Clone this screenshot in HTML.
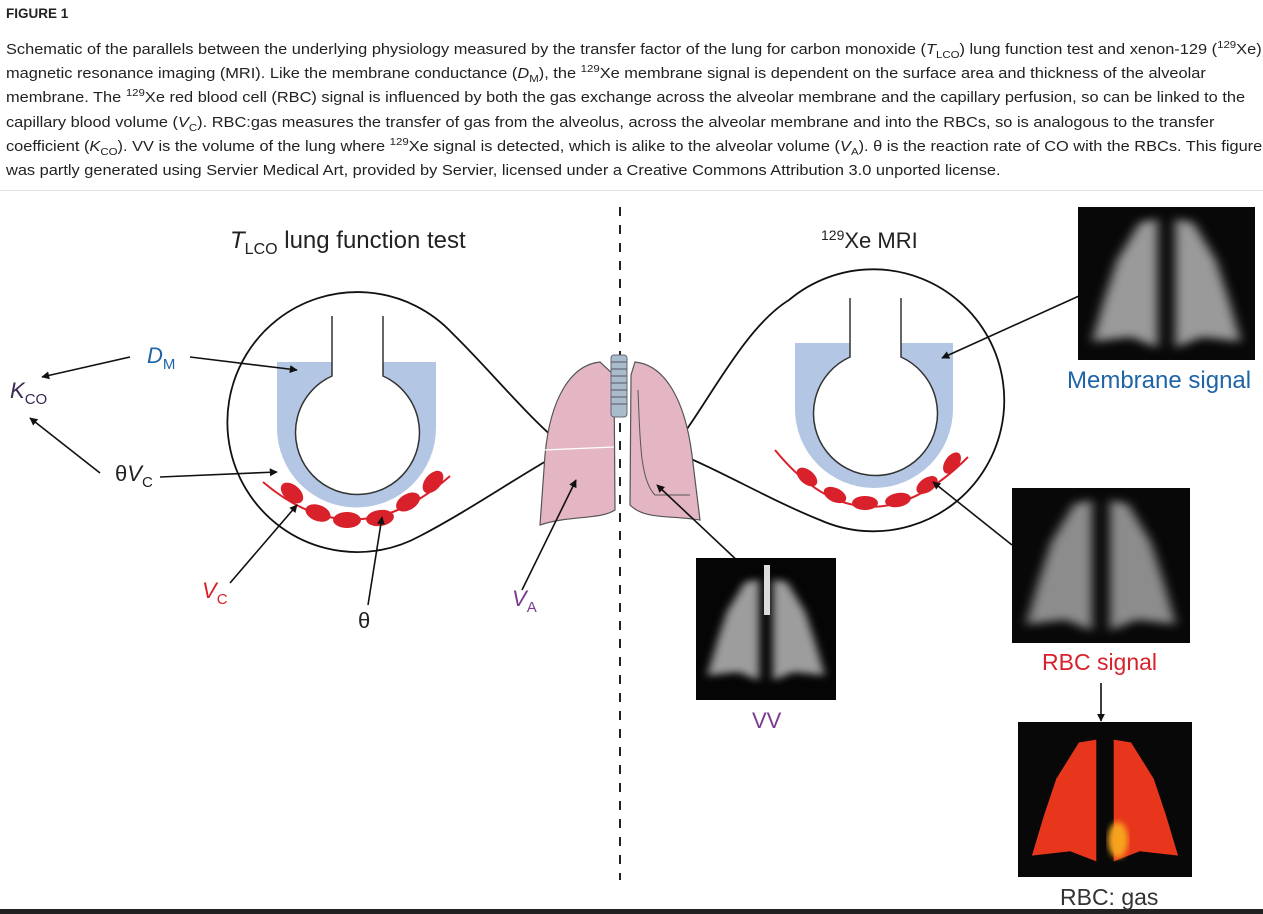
<!DOCTYPE html>
<html><head><meta charset="utf-8"><style>
body{margin:0;width:1263px;height:914px;background:#fff;overflow:hidden;font-family:"Liberation Sans",sans-serif;color:#222;position:relative}
.h{position:absolute;left:6px;top:6px;font-weight:bold;font-size:13.5px}
.cap{position:absolute;left:6px;top:38px;font-size:14.3px;line-height:24.2px;white-space:nowrap;transform:scaleX(1.145);transform-origin:0 0}
.cap sup{font-size:10px;line-height:0}
.cap sub{font-size:10px;line-height:0}
.sep{position:absolute;left:0;top:190px;width:1263px;height:1px;background:#e2e2e2}
.bot{position:absolute;left:0;top:909px;width:1263px;height:5px;background:#222}
svg{position:absolute;left:0;top:0}
</style></head><body>
<div class="h">FIGURE 1</div>
<div class="cap">
Schematic of the parallels between the underlying physiology measured by the transfer factor of the lung for carbon monoxide (<i>T</i><sub>LCO</sub>) lung function test and xenon-129 (<sup>129</sup>Xe)<br>
magnetic resonance imaging (MRI). Like the membrane conductance (<i>D</i><sub>M</sub>), the <sup>129</sup>Xe membrane signal is dependent on the surface area and thickness of the alveolar<br>
membrane. The <sup>129</sup>Xe red blood cell (RBC) signal is influenced by both the gas exchange across the alveolar membrane and the capillary perfusion, so can be linked to the<br>
capillary blood volume (<i>V</i><sub>C</sub>). RBC:gas measures the transfer of gas from the alveolus, across the alveolar membrane and into the RBCs, so is analogous to the transfer<br>
coefficient (<i>K</i><sub>CO</sub>). VV is the volume of the lung where <sup>129</sup>Xe signal is detected, which is alike to the alveolar volume (<i>V</i><sub>A</sub>). θ is the reaction rate of CO with the RBCs. This figure<br>
was partly generated using Servier Medical Art, provided by Servier, licensed under a Creative Commons Attribution 3.0 unported license.
</div>
<div class="sep"></div>
<div class="bot"></div>
<svg width="1263" height="914" viewBox="0 0 1263 914">
<defs>
<marker id="a" viewBox="0 0 10 10" refX="9" refY="5" markerWidth="5" markerHeight="5" orient="auto"><path d="M0,0L10,5L0,10z" fill="#111"/></marker>
<filter id="bl"><feGaussianBlur stdDeviation="3"/></filter>
<path id="lu" d="M45,8 L35,10 L22,35 L15,60 L8,88 L30,85 L45,92 Z M55,8 L65,10 L78,35 L85,60 L92,88 L70,85 L55,92 Z"/>
</defs>
<line x1="620" y1="207" x2="620" y2="880" stroke="#222" stroke-width="2" stroke-dasharray="9,9"/>

<!-- LEFT bubble -->
<path d="M453,334 A130,130 0 1 0 420,536 C470,510 520,475 567,449 C530,420 490,370 453,334 Z" fill="#fff" stroke="#111" stroke-width="1.8"/>
<path d="M277,362 H436 V428 A79.5,79.5 0 0 1 277,428 Z" fill="#b3c7e5"/>
<path d="M332,316 V376 A62,62 0 1 0 383,376 V316" fill="#fff" stroke="#333" stroke-width="1.5"/>
<path d="M263,482 Q355,560 450,476" fill="none" stroke="#d9212b" stroke-width="2"/>
<g fill="#d9212b">
<ellipse cx="292" cy="493" rx="13" ry="8" transform="rotate(40 292 493)"/>
<ellipse cx="318" cy="513" rx="13" ry="8" transform="rotate(20 318 513)"/>
<ellipse cx="347" cy="520" rx="14" ry="8"/>
<ellipse cx="380" cy="518" rx="14" ry="8" transform="rotate(-8 380 518)"/>
<ellipse cx="408" cy="502" rx="13" ry="8" transform="rotate(-30 408 502)"/>
<ellipse cx="433" cy="482" rx="13" ry="8" transform="rotate(-50 433 482)"/>
</g>

<!-- RIGHT bubble -->
<path d="M670,450 C700,420 740,330 789,300 A131,131 0 1 1 820,520 C770,500 720,470 670,450 Z" fill="#fff" stroke="#111" stroke-width="1.8"/>
<path d="M795,343 H953 V409 A79,79 0 0 1 795,409 Z" fill="#b3c7e5"/>
<path d="M850,298 V357 A62,62 0 1 0 901,357 V298" fill="#fff" stroke="#333" stroke-width="1.5"/>
<path d="M775,450 Q865,560 968,457" fill="none" stroke="#d9212b" stroke-width="2"/>
<g fill="#d9212b">
<ellipse cx="807" cy="477" rx="12" ry="7" transform="rotate(40 807 477)"/>
<ellipse cx="835" cy="495" rx="12" ry="7" transform="rotate(25 835 495)"/>
<ellipse cx="865" cy="503" rx="13" ry="7"/>
<ellipse cx="898" cy="500" rx="13" ry="7" transform="rotate(-10 898 500)"/>
<ellipse cx="927" cy="485" rx="12" ry="7" transform="rotate(-35 927 485)"/>
<ellipse cx="952" cy="463" rx="12" ry="7" transform="rotate(-55 952 463)"/>
</g>

<!-- lungs -->
<path d="M600,362 C570,365 550,400 545,455 L540,525 C570,515 600,520 615,510 L614,375 Z" fill="#e4b6c3" stroke="#555" stroke-width="1.2"/>
<path d="M635,362 C665,365 685,400 692,455 L700,520 C670,515 645,520 630,505 L631,375 Z" fill="#e4b6c3" stroke="#555" stroke-width="1.2"/>
<path d="M544,450 L614,447" stroke="#fff" stroke-width="1.2"/>
<path d="M638,390 C640,440 640,480 655,495 L690,495" fill="none" stroke="#555" stroke-width="1"/>
<rect x="611" y="355" width="16" height="62" rx="3" fill="#a9bccb" stroke="#667" stroke-width="1"/>
<g stroke="#556" stroke-width="1"><line x1="611" y1="362" x2="627" y2="362"/><line x1="611" y1="369" x2="627" y2="369"/><line x1="611" y1="376" x2="627" y2="376"/><line x1="611" y1="383" x2="627" y2="383"/><line x1="611" y1="390" x2="627" y2="390"/><line x1="611" y1="397" x2="627" y2="397"/><line x1="611" y1="404" x2="627" y2="404"/></g>

<g font-family="Liberation Sans, sans-serif">
<text x="230" y="248" font-size="24" fill="#222"><tspan font-style="italic">T</tspan><tspan font-size="16" dy="6">LCO</tspan><tspan dy="-6"> lung function test</tspan></text>
<text x="147" y="363" font-size="22" fill="#1f64a8" font-style="italic">D<tspan font-size="15" dy="6" font-style="normal">M</tspan></text>
<text x="10" y="398" font-size="22" fill="#3b2a55" font-style="italic">K<tspan font-size="15" dy="6" font-style="normal">CO</tspan></text>
<text x="115" y="481" font-size="22" fill="#222">θ<tspan font-style="italic">V</tspan><tspan font-size="15" dy="6">C</tspan></text>
<text x="202" y="598" font-size="22" fill="#d9212b" font-style="italic">V<tspan font-size="15" dy="6" font-style="normal">C</tspan></text>
<text x="358" y="628" font-size="22" fill="#222">θ</text>
<text x="512" y="606" font-size="22" fill="#7a3b8f" font-style="italic">V<tspan font-size="15" dy="6" font-style="normal">A</tspan></text>
<text x="821" y="248" font-size="22" fill="#222"><tspan font-size="14" dy="-8">129</tspan><tspan dy="8">Xe MRI</tspan></text>
<text x="1067" y="388" font-size="24" fill="#1f64a8">Membrane signal</text>
<text x="1042" y="670" font-size="23" fill="#d9212b">RBC signal</text>
<text x="1060" y="905" font-size="23" fill="#333">RBC: gas</text>
<text x="752" y="728" font-size="22" fill="#7a3b8f">VV</text>
</g>

<g stroke="#111" stroke-width="1.6" fill="none" marker-end="url(#a)">
<line x1="130" y1="357" x2="42" y2="377"/>
<line x1="190" y1="357" x2="297" y2="370"/>
<line x1="100" y1="473" x2="30" y2="418"/>
<line x1="160" y1="477" x2="277" y2="472"/>
<line x1="230" y1="583" x2="297" y2="505"/>
<line x1="368" y1="605" x2="382" y2="517"/>
<line x1="522" y1="590" x2="576" y2="480"/>
<line x1="742" y1="565" x2="657" y2="485"/>
<line x1="1079" y1="296" x2="942" y2="358"/>
<line x1="1012" y1="545" x2="933" y2="482"/>
<line x1="1101" y1="683" x2="1101" y2="721"/>
</g>

<rect x="1078" y="207" width="177" height="153" fill="#080808"/>
<g transform="translate(1078,207) scale(1.77,1.53)" fill="#9a9a9a" filter="url(#bl)"><use href="#lu"/></g>
<rect x="1012" y="488" width="178" height="155" fill="#080808"/>
<g transform="translate(1012,488) scale(1.78,1.55)" fill="#8c8c8c" filter="url(#bl)"><use href="#lu"/></g>
<rect x="696" y="558" width="140" height="142" fill="#050505"/>
<g transform="translate(696,570) scale(1.4,1.2)" fill="#9d9d9d" filter="url(#bl)"><use href="#lu"/></g>
<rect x="764" y="565" width="6" height="50" fill="#ddd"/>
<rect x="1018" y="722" width="174" height="155" fill="#080808"/>
<g transform="translate(1018,728) scale(1.74,1.45)" fill="#e8361c"><use href="#lu"/></g>
<ellipse cx="1118" cy="840" rx="10" ry="18" fill="#f7a21b" filter="url(#bl)"/>
</svg>
</body></html>
